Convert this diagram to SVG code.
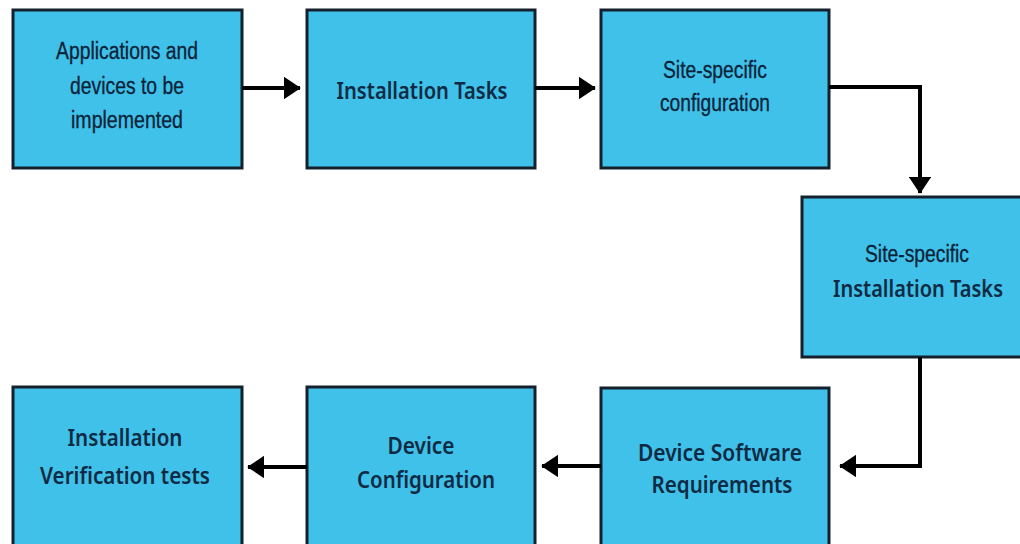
<svg xmlns="http://www.w3.org/2000/svg" width="1020" height="544" viewBox="0 0 1020 544">
<defs>
<marker id="ah" markerWidth="4.2" markerHeight="5.6" refX="4" refY="2.8" orient="auto" markerUnits="strokeWidth">
<path d="M0,0 L4.2,2.8 L0,5.6 Z" fill="#000"/>
</marker>
<style>
.box{fill:#3FC1E9;stroke:#14202c;stroke-width:3}
.t{font-family:"Liberation Sans",Arial,sans-serif;font-size:23px;fill:#0b2238;stroke:#0b2238;stroke-width:0.3;text-anchor:middle}
.s{font-family:"Noto Sans","Open Sans",sans-serif;font-size:23px;font-weight:600;fill:#0f2a44;text-anchor:middle}
.c{fill:none;stroke:#000;stroke-width:4;marker-end:url(#ah)}
</style>
</defs>
<rect width="1020" height="544" fill="#fff"/>
<g id="n1"><rect class="box" x="13" y="10" width="229" height="158"/>
<text class="t" x="127" y="59" textLength="142" lengthAdjust="spacingAndGlyphs">Applications and</text>
<text class="t" x="127" y="94" textLength="114" lengthAdjust="spacingAndGlyphs">devices to be</text>
<text class="t" x="127" y="128" textLength="112" lengthAdjust="spacingAndGlyphs">implemented</text></g>
<g id="n2"><rect class="box" x="307" y="10" width="228" height="158"/>
<text class="s" x="422" y="99" textLength="171" lengthAdjust="spacingAndGlyphs">Installation Tasks</text></g>
<g id="n3"><rect class="box" x="601" y="10" width="228" height="158"/>
<text class="t" x="715" y="78" textLength="104" lengthAdjust="spacingAndGlyphs">Site-specific</text>
<text class="t" x="715" y="111" textLength="110" lengthAdjust="spacingAndGlyphs">configuration</text></g>
<g id="n4"><rect class="box" x="802" y="197" width="222" height="160"/>
<text class="t" x="917" y="262" textLength="104" lengthAdjust="spacingAndGlyphs">Site-specific</text>
<text class="s" x="918" y="297" textLength="170" lengthAdjust="spacingAndGlyphs">Installation Tasks</text></g>
<g id="n5"><rect class="box" x="601" y="388" width="228" height="160"/>
<text class="s" x="720" y="461" textLength="164" lengthAdjust="spacingAndGlyphs">Device Software</text>
<text class="s" x="722" y="493" textLength="141" lengthAdjust="spacingAndGlyphs">Requirements</text></g>
<g id="n6"><rect class="box" x="307" y="387" width="228" height="161"/>
<text class="s" x="421" y="454" textLength="67" lengthAdjust="spacingAndGlyphs">Device</text>
<text class="s" x="426" y="488" textLength="138" lengthAdjust="spacingAndGlyphs">Configuration</text></g>
<g id="n7"><rect class="box" x="13" y="387" width="229" height="161"/>
<text class="s" x="125" y="446" textLength="115" lengthAdjust="spacingAndGlyphs">Installation</text>
<text class="s" x="125" y="484" textLength="170" lengthAdjust="spacingAndGlyphs">Verification tests</text></g>
<g id="connectors">
<path class="c" d="M242,88 L300,88"/>
<path class="c" d="M535,88 L595,88"/>
<path class="c" d="M829,87 L920,87 L920,193"/>
<path class="c" d="M920,357 L920,466 L840,466"/>
<path class="c" d="M601,466 L542,466"/>
<path class="c" d="M307,467 L248,467"/>
</g>
</svg>
